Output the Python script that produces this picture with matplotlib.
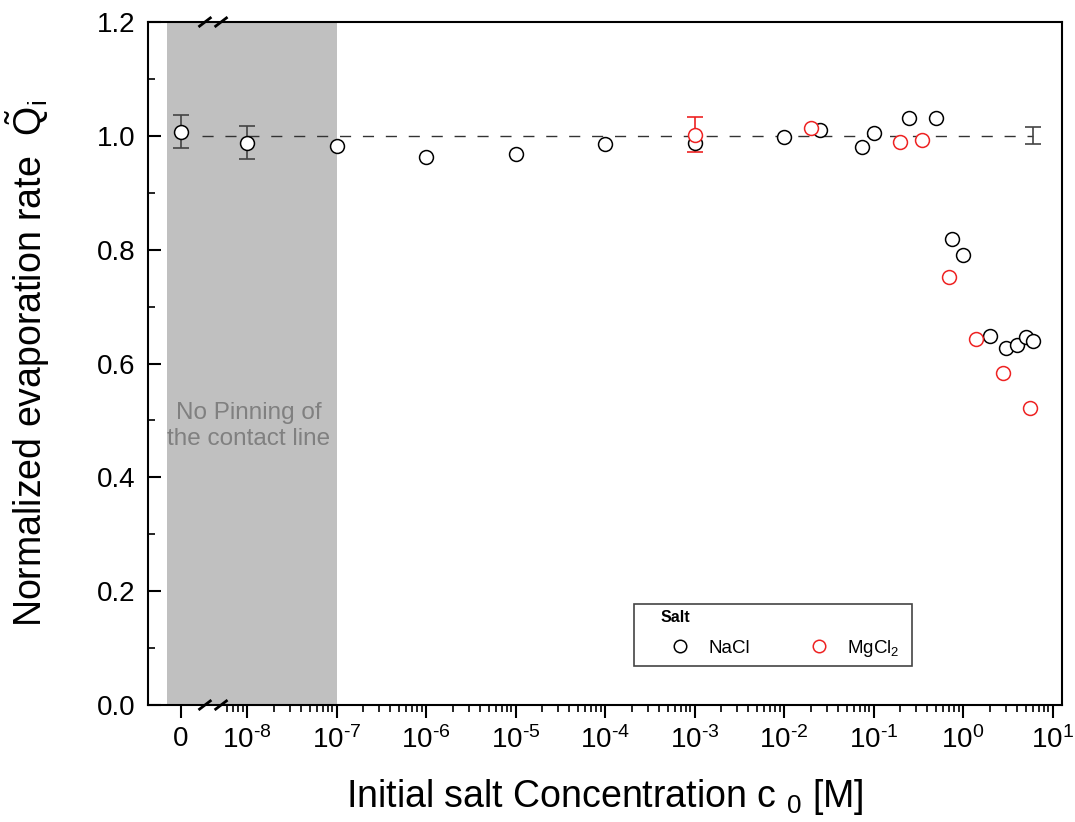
import numpy as np
from matplotlib import pyplot as plt
from matplotlib.patches import Rectangle

plt.rcParams["font.family"] = ["Liberation Sans", "DejaVu Sans"]
plt.rcParams["mathtext.fontset"] = "custom"
plt.rcParams["mathtext.rm"] = "Liberation Sans"
plt.rcParams["mathtext.it"] = "Liberation Sans:italic"
plt.rcParams["mathtext.bf"] = "Liberation Sans:bold"

# data (c in M, 0 = pure water)
NACL_C = [0, 1e-8, 1e-7, 1e-6, 1e-5, 1e-4, 1e-3, 1e-2, 0.025, 0.075, 0.1,
          0.25, 0.5, 0.75, 1, 2, 3, 4, 5, 6]
NACL_Q = [1.007, 0.988, 0.982, 0.963, 0.968, 0.986, 0.987, 0.998, 1.010, 0.980,
          1.005, 1.031, 1.031, 0.819, 0.791, 0.648, 0.627, 0.632, 0.647, 0.640]
NACL_ERR_C = [0, 1e-8]
NACL_ERR_Q = [1.007, 0.988]
NACL_ERR = [0.029, 0.029]

MGCL_C = [1e-3, 0.02, 0.2, 0.35, 0.7, 1.4, 2.8, 5.6]
MGCL_Q = [1.002, 1.013, 0.989, 0.992, 0.752, 0.643, 0.583, 0.522]
MGCL_ERR_C = [1e-3]
MGCL_ERR_Q = [1.002]
MGCL_ERR = [0.031]

REF_C = [6]
REF_Q = [1.0]
REF_ERR = [0.015]

TICK_C = [0, 1e-8, 1e-7, 1e-6, 1e-5, 1e-4, 1e-3, 1e-2, 1e-1, 1e0, 1e1]
TICK_LABELS = ["0"] + [r"$10^{\text{-}%d}$" % -e if e < 0 else "$10^{%d}$" % e
                       for e in range(-8, 2)]

ZERO_POS = -8.737   # where c = 0 sits on the broken axis
BREAK_POS = -8.38


def pos(c):
    c = np.asarray(c, dtype=float)
    out = np.full(c.shape, ZERO_POS)
    m = c > 0
    out[m] = np.log10(c[m])
    return out


fig = plt.figure(figsize=(10.75, 8.22), dpi=100)
ax = fig.add_axes([0.1377, 0.1423, 0.8502, 0.8309])

# shaded "no pinning" region
ax.axvspan(-8.894, -7.0, color="#c0c0c0", lw=0, zorder=0)
ax.text(-7.98, 0.49, "No Pinning of\nthe contact line", color="#808080",
        fontsize=17.5, ha="center", va="center", linespacing=1.2)

# reference line
ax.plot(pos([10 ** -8.5, 6]), [1.0, 1.0], color="#333333", lw=1,
        dashes=(8, 8.5), zorder=1)

eb = dict(fmt="none", ecolor="#444444", elinewidth=1.2, capsize=6, capthick=1.2, zorder=2)
ax.errorbar(pos(NACL_ERR_C), NACL_ERR_Q, yerr=NACL_ERR, **eb)
ax.errorbar(pos(REF_C), REF_Q, yerr=REF_ERR, **eb)
eb["ecolor"] = "#ee2222"
ax.errorbar(pos(MGCL_ERR_C), MGCL_ERR_Q, yerr=MGCL_ERR, **eb)

ax.plot(pos(NACL_C), NACL_Q, "o", ms=10, mfc="white", mec="black", mew=1.1,
        label="NaCl", zorder=3)
ax.plot(pos(MGCL_C), MGCL_Q, "o", ms=10, mfc="white", mec="#ee2222", mew=1.1,
        label="MgCl$_2$", zorder=4)

ax.set_xlim(-9.106, 1.106)
ax.set_ylim(0, 1.2)

ax.set_xticks(pos(TICK_C))
ax.set_xticklabels(TICK_LABELS)
minor = [np.log10(k * 10.0 ** e) for e in range(-9, 1) for k in range(2, 10)]
minor = [m for m in minor if m > BREAK_POS + 0.08]
ax.set_xticks(minor, minor=True)
ax.set_yticks(np.arange(0, 1.21, 0.2))
ax.set_yticks(np.arange(0.1, 1.2, 0.2), minor=True)
ax.yaxis.set_major_formatter(plt.FormatStrFormatter("%.1f"))

ax.tick_params(axis="x", which="major", direction="out", length=9, width=1.5,
               labelsize=20, pad=6)
ax.tick_params(axis="x", which="minor", direction="out", length=5, width=1.2)
ax.tick_params(axis="y", which="major", direction="in", length=9, width=1.5,
               labelsize=20, pad=9)
ax.tick_params(axis="y", which="minor", direction="in", length=5, width=1.2)
for s in ax.spines.values():
    s.set_linewidth(1.5)

# axis break marks
for bx in (BREAK_POS - 0.09, BREAK_POS + 0.09):
    for by in (0, 1):
        ax.plot([bx - 0.06, bx + 0.06], [by - 0.006, by + 0.006], color="black",
                lw=2, transform=ax.get_xaxis_transform(), clip_on=False, zorder=5)

ax.set_xlabel("Initial salt Concentration c $_{0}$ [M]", fontsize=27, labelpad=17)
ax.set_ylabel(r"Normalized evaporation rate  $\tilde{\mathrm{Q}}_\mathrm{i}$",
              fontsize=27, labelpad=32)

# legend box drawn separately so the entries can sit like the original
ax.add_patch(Rectangle((0.532, 0.057), 0.304, 0.091, transform=ax.transAxes,
                       fill=False, edgecolor="#444444", lw=1.2, zorder=6))
leg = ax.legend(loc="upper left", bbox_to_anchor=(0.561, 0.139),
                ncol=2, title="Salt", fontsize=13.5,
                title_fontproperties={"weight": "bold", "size": 11.5},
                alignment="left", frameon=False, borderpad=0, borderaxespad=0,
                handlelength=2.1, handletextpad=0.45, columnspacing=2.6,
                labelspacing=0.3, markerscale=0.9)
leg._legend_box.sep = 9

fig.savefig("out.png", dpi=100)
